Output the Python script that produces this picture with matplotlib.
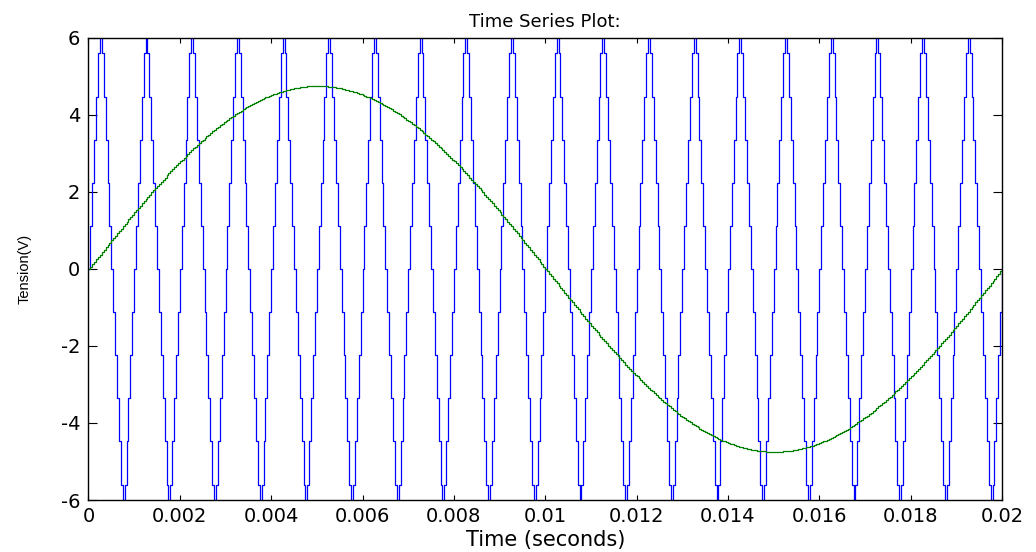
import numpy as np
import matplotlib
matplotlib.use("Agg")
import matplotlib.pyplot as plt

# One period of the sampled triangular carrier (V), 24 samples per period
carrier_period_levels = [0.0, 1.12, 2.24, 3.36, 4.48, 5.60, 6.72, 5.60, 4.48, 3.36, 2.24, 1.12,
                         0.0, -1.12, -2.24, -3.36, -4.48, -5.60, -6.72, -5.60, -4.48, -3.36, -2.24, -1.12]
carrier_periods = 20
sample_time = 1.0 / 24000.0      # s
t_end = 0.02                     # s

# Sinusoidal reference signal
reference_amplitude = 4.75       # V
reference_frequency = 50.0       # Hz

x_ticks = [0, 0.002, 0.004, 0.006, 0.008, 0.01, 0.012, 0.014, 0.016, 0.018, 0.02]
x_tick_labels = ["0", "0.002", "0.004", "0.006", "0.008", "0.01",
                 "0.012", "0.014", "0.016", "0.018", "0.02"]
y_ticks = [-6, -4, -2, 0, 2, 4, 6]
y_tick_labels = ["-6", "-4", "-2", "0", "2", "4", "6"]

# Sampled signals (zero-order hold)
carrier = np.concatenate([np.tile(carrier_period_levels, carrier_periods), [carrier_period_levels[0]]])
t = np.arange(carrier.size) * sample_time
reference = reference_amplitude * np.sin(2 * np.pi * reference_frequency * t)

plt.rcParams['font.family'] = ['DejaVu Sans']

fig = plt.figure(figsize=(10.36, 5.52), dpi=100)
fig.patch.set_facecolor('white')
ax = fig.add_axes([0.0854, 0.0942, 0.8818, 0.837])

ax.step(t, carrier, where='post', color=(0, 0, 1), linewidth=0.9)
ax.step(t, reference, where='post', color=(0, 0.5, 0), linewidth=0.9)

ax.set_xlim(0, t_end)
ax.set_ylim(-6, 6)
ax.set_xticks(x_ticks)
ax.set_xticklabels(x_tick_labels)
ax.set_yticks(y_ticks)
ax.set_yticklabels(y_tick_labels)

ax.tick_params(axis='both', direction='in', top=True, right=True,
               labelsize=14, colors='black', width=0.8)
ax.tick_params(axis='x', length=3.8, pad=5)
ax.tick_params(axis='y', length=6.5, pad=6)
for spine in ax.spines.values():
    spine.set_color('black')
    spine.set_linewidth(1.0)

ax.set_title("Time Series Plot:", fontsize=13, pad=8)
ax.set_xlabel("Time (seconds)", fontsize=15, labelpad=3)
ax.set_ylabel("Tension(V)", fontsize=10.5, family=['Liberation Sans', 'DejaVu Sans'], labelpad=21)

fig.savefig("out.png", dpi=100, facecolor='white')
